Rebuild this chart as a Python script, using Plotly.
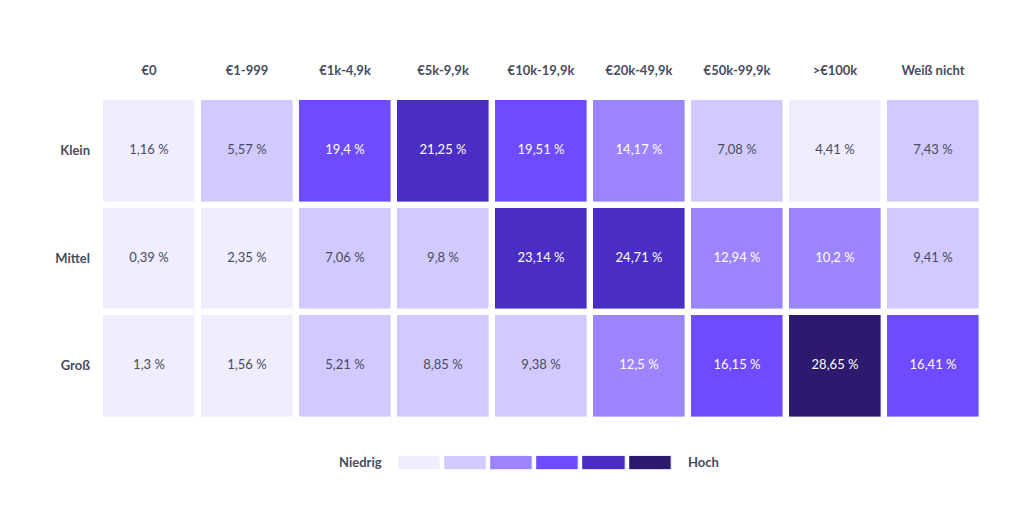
import plotly.graph_objects as go

columns = ["€0", "€1-999", "€1k-4,9k", "€5k-9,9k", "€10k-19,9k", "€20k-49,9k", "€50k-99,9k", ">€100k", "Weiß nicht"]
rows = ["Klein", "Mittel", "Groß"]
klein = [1.16, 5.57, 19.4, 21.25, 19.51, 14.17, 7.08, 4.41, 7.43]
mittel = [0.39, 2.35, 7.06, 9.8, 23.14, 24.71, 12.94, 10.2, 9.41]
gross = [1.3, 1.56, 5.21, 8.85, 9.38, 12.5, 16.15, 28.65, 16.41]
level_edges = [0, 5, 10, 15, 20, 25, 30]
level_colors = ["#F0EDFF", "#D2CAFE", "#9C84FF", "#6E4BFF", "#4A2DC4", "#2C1A6E"]
legend_low, legend_high = "Niedrig", "Hoch"

values = [klein, mittel, gross]
zmin, zmax = level_edges[0], level_edges[-1]
n = len(level_colors)
cscale = []
for i, c in enumerate(level_colors):
    cscale.append([i / n, c])
    cscale.append([(i + 1) / n, c])

TXT = "#474C5E"
FONT = "Lato"

fig = go.Figure()
fig.add_trace(go.Heatmap(
    x=columns, y=rows, z=values, zmin=zmin, zmax=zmax,
    colorscale=cscale, showscale=False, xgap=6.4, ygap=6.4,
    hoverinfo="skip",
))

tx, ty, tt, tc = [], [], [], []
for r, row in zip(rows, values):
    for c, v in zip(columns, row):
        tx.append(c); ty.append(r)
        tt.append(f"{v}".replace(".", ",") + " %")
        tc.append(TXT if v < level_edges[2] else "#FFFFFF")
fig.add_trace(go.Scatter(
    x=tx, y=ty, text=tt, mode="text",
    textfont=dict(family=FONT, size=13, color=tc),
    hoverinfo="skip", showlegend=False,
))

mids = [(level_edges[i] + level_edges[i + 1]) / 2 for i in range(n)]
fig.add_trace(go.Heatmap(
    x=list(range(n)), y=[0], z=[mids], zmin=zmin, zmax=zmax,
    colorscale=cscale, showscale=False, xgap=4.4, ygap=0,
    xaxis="x2", yaxis="y2", hoverinfo="skip",
))

fig.update_layout(
    width=1024, height=512,
    margin=dict(l=92, r=50, t=89, b=48),
    paper_bgcolor="white", plot_bgcolor="white",
    font=dict(family=FONT, color=TXT),
    xaxis=dict(domain=[0, 1], side="top", showgrid=False, zeroline=False, showline=False,
               ticks="", tickfont=dict(family=FONT, size=13, color=TXT, weight="bold"),
               ticklabelstandoff=18, fixedrange=True),
    yaxis=dict(domain=[0.14, 1], autorange="reversed", showgrid=False, zeroline=False,
               showline=False, ticks="", tickfont=dict(family=FONT, size=13, color=TXT, weight="bold"),
               ticklabelstandoff=9, fixedrange=True),
    xaxis2=dict(domain=[0.3358, 0.6494], anchor="y2", visible=False, range=[-0.5, n - 0.5]),
    yaxis2=dict(domain=[0.0072, 0.0435], anchor="x2", visible=False, range=[-0.5, 0.5]),
    annotations=[
        dict(xref="x2", yref="y2", x=-0.5, y=0, text=legend_low, showarrow=False,
             xanchor="right", xshift=-12, font=dict(family=FONT, size=13, color=TXT, weight="bold")),
        dict(xref="x2", yref="y2", x=n - 0.5, y=0, text=legend_high, showarrow=False,
             xanchor="left", xshift=13, font=dict(family=FONT, size=13, color=TXT, weight="bold")),
    ],
)

fig.write_html("out.html")
